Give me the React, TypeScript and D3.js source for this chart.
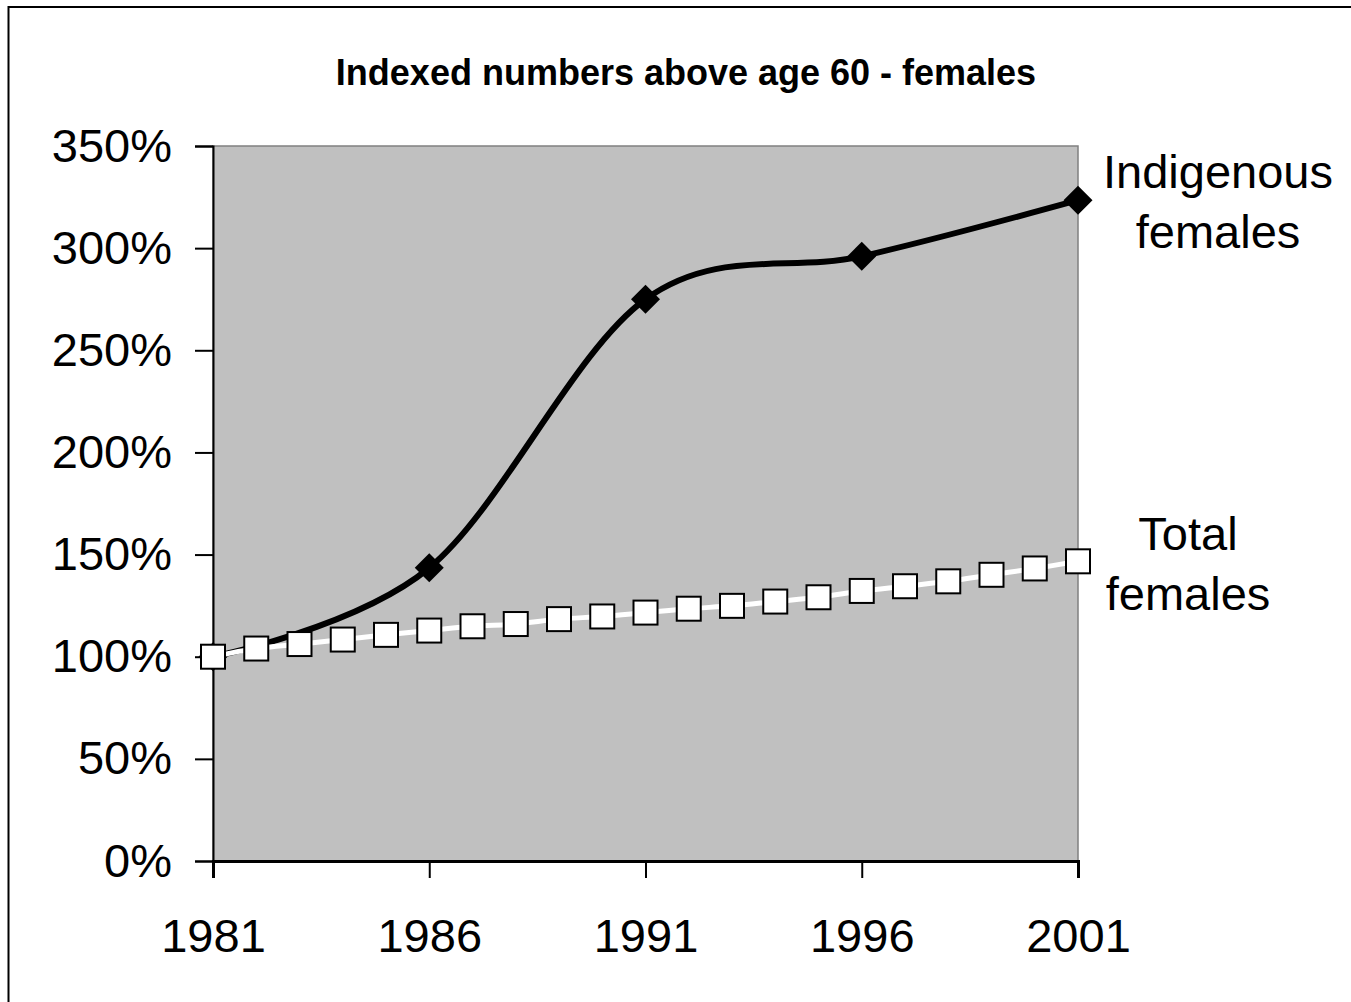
import * as d3 from 'd3';
import { useEffect, useRef } from 'react';

const years = d3.range(1981, 2002);
const censusYears = [1981, 1986, 1991, 1996, 2001];
const indigenousFemales = [1.0, 1.435, 2.75, 2.96, 3.235];
const totalFemales = [
  1.0, 1.04, 1.062, 1.084, 1.107, 1.128, 1.149, 1.16, 1.184, 1.197, 1.216,
  1.235, 1.249, 1.27, 1.291, 1.322, 1.345, 1.369, 1.401, 1.432, 1.467,
];
const yTicks = [0, 0.5, 1, 1.5, 2, 2.5, 3, 3.5];
const xTickYears = [1981, 1986, 1991, 1996, 2001];

const W = 1351;
const H = 1002;
const FONT = '"Liberation Sans", Arial, Helvetica, sans-serif';

export default function App() {
  const ref = useRef<SVGSVGElement | null>(null);

  useEffect(() => {
    const svg = d3.select(ref.current);
    svg.selectAll('*').remove();

    const plot = { left: 213, right: 1078, top: 146, bottom: 861 };

    const x = d3.scaleLinear().domain([1981, 2001]).range([plot.left, plot.right]);
    const y = d3.scaleLinear().domain([0, 3.5]).range([plot.bottom, plot.top]);

    svg.append('rect').attr('width', W).attr('height', H).attr('fill', '#ffffff');

    // outer chart frame (only top and left edges are in view)
    svg.append('path')
      .attr('d', `M8.5,${H} V7 H${W}`)
      .attr('fill', 'none')
      .attr('stroke', '#000')
      .attr('stroke-width', 2);

    svg.append('text')
      .attr('x', 686)
      .attr('y', 85)
      .attr('text-anchor', 'middle')
      .style('font-family', FONT)
      .style('font-size', '36px')
      .style('font-weight', 'bold')
      .text('Indexed numbers above age 60 - females');

    svg.append('rect')
      .attr('x', plot.left)
      .attr('y', plot.top)
      .attr('width', plot.right - plot.left)
      .attr('height', plot.bottom - plot.top)
      .attr('fill', '#c0c0c0')
      .attr('stroke', '#808080')
      .attr('stroke-width', 1.5);

    const yAxis = svg.append('g')
      .attr('transform', `translate(${plot.left},0)`)
      .call(d3.axisLeft(y).tickValues(yTicks).tickSize(18).tickPadding(23).tickFormat(d3.format('.0%')));
    yAxis.select('.domain').attr('stroke', '#000').attr('stroke-width', 2);
    yAxis.selectAll('line').attr('stroke', '#000').attr('stroke-width', 2);
    yAxis.selectAll('text')
      .style('font-family', FONT)
      .style('font-size', '47px')
      .attr('fill', '#000');

    const xAxis = svg.append('g')
      .attr('transform', `translate(0,${plot.bottom})`)
      .call(d3.axisBottom(x).tickValues(xTickYears).tickSize(17).tickPadding(41).tickFormat(d3.format('d')));
    xAxis.select('.domain').attr('stroke', '#000').attr('stroke-width', 3);
    xAxis.selectAll('line').attr('stroke', '#000').attr('stroke-width', 2);
    xAxis.selectAll('text')
      .style('font-family', FONT)
      .style('font-size', '47px')
      .attr('fill', '#000');

    // Indigenous females: smoothed line through census years
    const indigenous = censusYears.map((yr, i) => ({ yr, v: indigenousFemales[i] }));
    svg.append('path')
      .datum(indigenous)
      .attr('d', d3.line<{ yr: number; v: number }>()
        .x((d) => x(d.yr))
        .y((d) => y(d.v))
        .curve(d3.curveCatmullRom.alpha(0)))
      .attr('fill', 'none')
      .attr('stroke', '#000')
      .attr('stroke-width', 6);

    svg.selectAll('path.diamond')
      .data(indigenous)
      .enter()
      .append('path')
      .attr('class', 'diamond')
      .attr('transform', (d) => `translate(${x(d.yr)},${y(d.v)}) rotate(45)`)
      .attr('d', d3.symbol().type(d3.symbolSquare).size(420)())
      .attr('fill', '#000');

    // Total females: white line, white square markers
    const total = years.map((yr, i) => ({ yr, v: totalFemales[i] }));
    svg.append('path')
      .datum(total)
      .attr('d', d3.line<{ yr: number; v: number }>()
        .x((d) => x(d.yr))
        .y((d) => y(d.v))
        .curve(d3.curveCatmullRom.alpha(0)))
      .attr('fill', 'none')
      .attr('stroke', '#fff')
      .attr('stroke-width', 5);

    svg.selectAll('rect.box')
      .data(total)
      .enter()
      .append('rect')
      .attr('class', 'box')
      .attr('x', (d) => x(d.yr) - 12)
      .attr('y', (d) => y(d.v) - 12)
      .attr('width', 24)
      .attr('height', 24)
      .attr('fill', '#fff')
      .attr('stroke', '#000')
      .attr('stroke-width', 2);

    const seriesLabels = [
      { lines: ['Indigenous', 'females'], cx: 1218, y0: 188 },
      { lines: ['Total', 'females'], cx: 1188, y0: 550 },
    ];
    seriesLabels.forEach((lab) => {
      const t = svg.append('text')
        .attr('text-anchor', 'middle')
        .style('font-family', FONT)
        .style('font-size', '47px')
        .attr('fill', '#000');
      lab.lines.forEach((line, i) => {
        t.append('tspan')
          .attr('x', lab.cx)
          .attr('y', lab.y0 + i * 60)
          .text(line);
      });
    });
  }, []);

  return (
    <svg
      ref={ref}
      width={W}
      height={H}
      style={{ position: 'absolute', left: 0, top: 0, display: 'block' }}
    />
  );
}
